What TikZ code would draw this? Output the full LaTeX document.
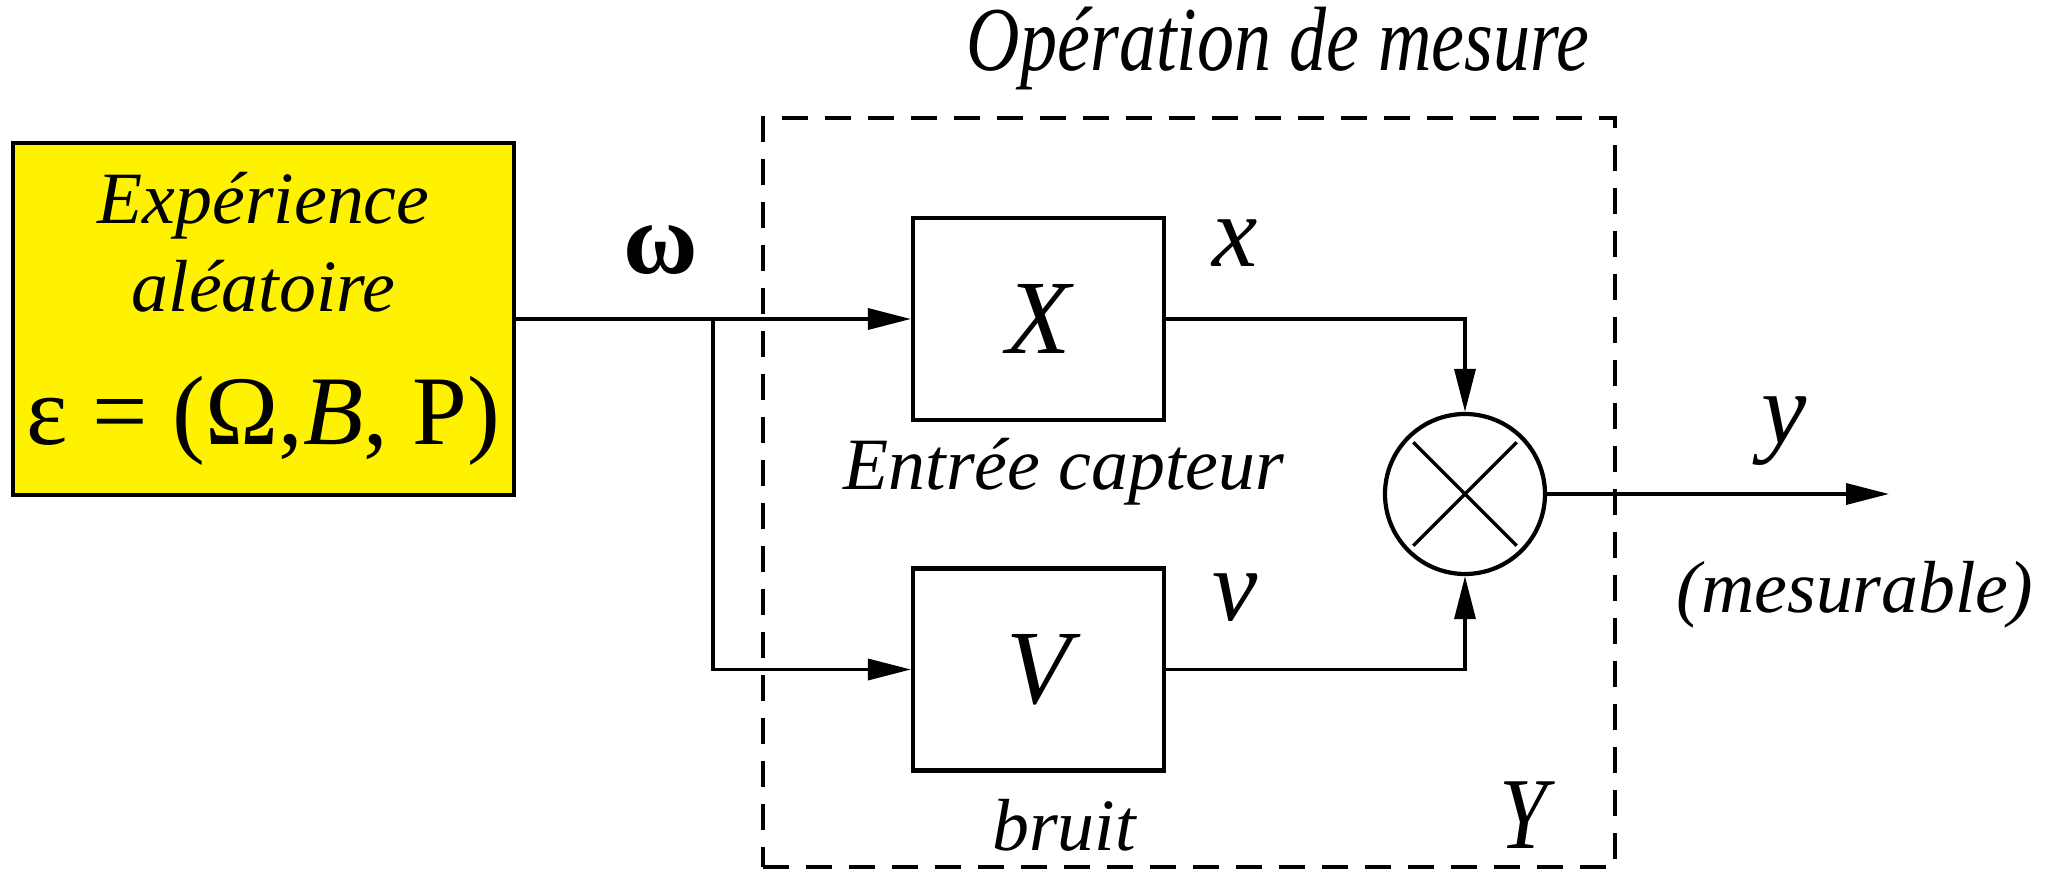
\documentclass[tikz,border=0pt]{standalone}
\usepackage{fontspec}
\setmainfont{Liberation Serif}
\usepackage{tikz}
\usetikzlibrary{arrows.meta,positioning,calc}

\begin{document}
\begin{tikzpicture}[
    block/.style={draw, line width=1.2pt, minimum width=2.51cm, minimum height=2.02cm, font=\fontsize{30}{36}\selectfont\itshape},
    edge/.style={-{Triangle[length=4.3mm,width=2.1mm]}, line width=1pt},
    lab/.style={font=\fontsize{21}{25}\selectfont\itshape},
    sig/.style={font=\fontsize{29}{34}\selectfont\itshape}
]
    \useasboundingbox (0,0) rectangle (20.6,-8.72);
    \node[draw, line width=1pt, dash pattern=on 0.26cm off 0.17cm, minimum width=8.52cm, minimum height=7.49cm] (mes) at (11.89,-4.925) {};
    \node[font=\fontsize{26}{30}\selectfont\itshape] (title) at (12.78,-0.48) {\scalebox{0.81}[1]{Opération de mesure}};

    \node[draw, line width=1.2pt, fill=yellow, minimum width=5.01cm, minimum height=3.52cm, inner sep=1pt, align=center, font=\fontsize{21}{26}\selectfont] (exp) at (2.635,-3.19)
        {\itshape Expérience\\[-1pt]\itshape aléatoire\\[12pt]{\fontsize{28}{33}\selectfont ε = (Ω,\textit{B}, P)}};
    \node[block] (sx) at (10.385,-3.19) {X};
    \node[block] (sv) at (10.385,-6.695) {V};
    \node[draw, circle, line width=1.2pt, minimum size=1.6cm, inner sep=0pt] (mult) at (14.65,-4.94) {};
    \draw[line width=1pt, shorten >=0.09cm, shorten <=0.09cm] (mult.north west) -- (mult.south east);
    \draw[line width=1pt, shorten >=0.09cm, shorten <=0.09cm] (mult.south west) -- (mult.north east);

    \coordinate (br) at (7.13,-3.19);
    \coordinate (out) at (18.89,-4.94);
    \draw[edge] (exp) -- (sx);
    \draw[edge] (br) |- (sv);
    \draw[edge] (sx) -| (mult);
    \draw[edge] (sv) -| (mult);
    \draw[edge] (mult) -- (out);

    \node[sig] (w) at (6.61,-2.5) {\upshape\bfseries ω};
    \node[sig] (lx) at (12.35,-2.43) {x};
    \node[sig] (lv) at (12.35,-5.98) {v};
    \node[sig] (ly) at (17.84,-4.31) {y};
    \node[sig] (lY) at (15.24,-8.15) {\scalebox{0.85}[1]{Y}};
    \node[lab] (cap) at (10.64,-4.72) {Entrée capteur};
    \node[lab] (bru) at (10.64,-8.25) {bruit};
    \node[lab] (mesu) at (18.55,-5.95) {(mesurable)};
\end{tikzpicture}
\end{document}
